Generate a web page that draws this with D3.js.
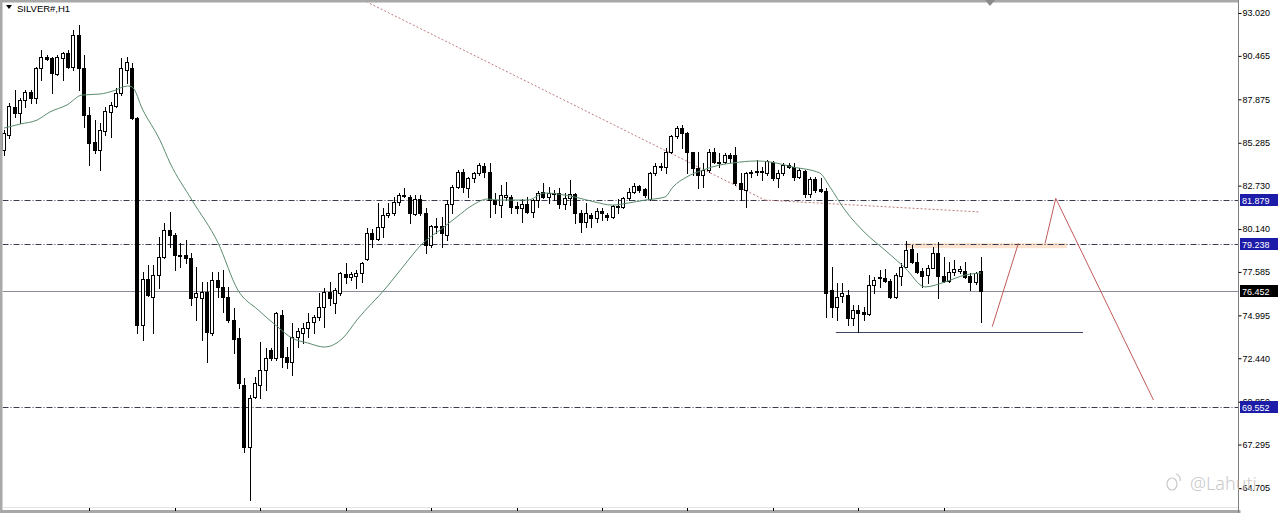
<!DOCTYPE html>
<html><head><meta charset="utf-8">
<script src="https://cdn.jsdelivr.net/npm/d3@7"></script>
<style>html,body{margin:0;padding:0;background:#fff;}svg{display:block;}</style>
</head><body>
<svg id="chart" width="1280" height="513"></svg>
<script>
const title = "SILVER#,H1";
const opens = [84.85,85.75,87.42,87.06,87.83,88.31,87.95,89.74,90.40,90.34,89.38,90.34,90.64,89.80,91.71,89.74,86.94,85.33,84.85,85.99,87.12,87.48,88.25,89.62,89.74,86.76,74.42,77.16,76.09,77.40,78.47,80.09,79.79,78.59,78.59,78.41,76.09,76.03,76.39,73.94,77.10,76.69,76.09,74.72,73.65,70.84,67.15,70.13,70.84,71.74,72.93,72.46,75.02,72.51,72.22,73.71,73.94,74.24,74.60,74.90,75.50,76.39,75.73,76.33,77.46,77.28,77.34,77.52,78.36,79.91,79.55,80.26,80.98,81.10,81.75,82.17,82.05,81.04,81.93,81.10,79.19,80.26,80.32,79.79,81.63,82.65,83.54,82.59,83.19,83.48,83.90,83.54,81.87,81.57,82.05,82.05,81.52,81.40,81.63,81.16,81.87,82.35,82.05,82.29,82.29,81.63,81.99,82.23,81.10,80.56,80.98,80.80,81.22,80.98,80.86,81.46,81.46,81.99,82.35,82.71,82.53,81.93,83.48,83.84,83.84,84.73,85.69,86.16,85.87,84.73,83.78,83.36,83.66,84.73,84.14,84.14,84.56,84.56,82.89,82.47,83.48,83.54,83.54,83.48,84.14,83.19,83.48,83.96,83.84,83.25,83.60,82.23,83.13,82.53,82.41,76.51,75.50,76.16,76.21,74.84,75.32,75.20,75.08,76.80,77.22,77.22,77.04,76.09,77.34,77.88,78.95,78.18,77.64,77.40,77.82,78.71,77.34,77.04,77.58,77.64,77.64,77.34,76.98,77.64];
const highs = [86.05,87.65,88.43,87.95,88.43,88.43,89.80,90.81,90.52,90.40,90.52,90.69,90.81,92.01,92.30,90.52,87.42,86.64,86.46,87.42,87.71,88.55,90.34,90.40,90.04,86.82,77.58,78.00,78.00,79.67,80.50,81.16,79.91,79.31,79.49,78.71,77.88,76.98,76.98,77.58,77.58,77.70,76.69,75.44,74.24,71.26,70.25,71.32,73.41,73.05,73.05,75.20,75.32,73.11,74.54,74.24,74.54,75.14,75.02,76.33,76.63,76.98,76.63,77.58,78.12,77.58,77.70,78.18,80.20,80.14,81.69,81.40,81.69,82.05,82.29,82.59,82.17,82.17,82.17,81.40,80.38,80.80,80.86,81.87,82.77,83.66,83.72,83.25,83.54,84.08,84.08,84.08,82.29,82.77,82.95,82.17,81.75,81.93,82.05,81.93,82.41,82.89,82.65,82.47,82.59,82.29,83.07,82.29,81.28,81.69,81.10,81.40,81.40,81.10,81.57,81.93,82.05,82.59,82.89,82.77,82.59,83.54,84.08,84.08,84.97,85.75,86.28,86.34,85.90,84.76,84.73,84.08,84.91,84.97,84.67,84.67,84.67,85.03,83.48,83.54,83.66,84.26,83.84,84.26,84.17,83.66,84.08,84.08,84.08,83.78,83.66,83.25,83.25,83.19,82.59,77.88,76.92,76.92,76.51,75.62,75.62,75.50,77.40,77.28,77.70,77.76,77.16,77.52,78.12,79.43,79.19,78.71,77.82,78.00,79.07,79.37,78.47,78.18,78.30,77.94,78.18,77.52,77.58,78.47];
const lows = [84.56,85.57,86.82,86.46,87.42,87.65,87.65,89.03,90.22,88.25,89.32,89.03,89.74,89.62,88.43,86.22,83.96,84.67,83.66,85.75,85.63,87.42,88.13,88.85,86.70,73.94,73.53,76.15,73.94,76.63,78.41,79.07,77.70,77.88,78.12,75.62,74.72,73.53,72.22,73.82,76.09,75.20,74.60,72.75,70.66,66.85,63.99,70.07,70.07,70.55,72.34,72.34,71.92,71.86,71.44,73.11,73.35,73.71,73.94,74.72,74.30,75.62,75.14,76.21,76.92,77.10,76.63,76.98,78.30,79.07,79.49,79.67,80.86,80.98,81.57,82.05,80.50,80.98,80.98,78.71,79.07,79.91,79.07,79.49,81.10,82.59,82.35,82.05,82.95,83.36,83.25,80.86,81.10,80.86,81.87,81.10,81.10,80.56,81.10,80.86,81.46,81.99,81.69,81.87,81.40,81.34,81.57,80.50,79.97,80.26,80.26,80.56,80.68,80.68,80.80,81.10,81.40,81.87,82.29,82.35,82.05,81.87,83.36,83.66,83.48,84.67,85.57,84.97,83.48,83.36,82.59,82.65,83.54,84.08,83.84,84.08,84.14,82.77,81.87,81.46,83.25,83.36,83.07,83.36,83.07,82.65,83.36,83.78,83.07,83.19,82.05,82.05,82.35,82.35,74.90,74.90,74.72,75.79,74.42,74.42,74.00,74.72,75.02,76.33,76.69,76.98,76.03,76.03,76.80,77.85,78.12,77.52,76.69,76.92,77.79,76.03,76.98,76.98,77.40,77.52,77.22,76.51,76.86,74.60];
const closes = [85.87,87.48,87.06,87.83,88.31,87.95,89.74,90.40,90.28,89.44,90.40,90.64,89.80,91.71,89.74,86.94,85.27,84.85,86.05,87.18,87.54,88.25,89.74,90.10,86.76,74.42,77.16,76.21,77.40,78.47,80.09,79.79,78.59,78.53,78.41,76.03,76.33,76.39,74.00,77.10,76.69,76.09,74.72,73.59,70.96,67.15,70.07,70.96,71.74,72.46,72.46,75.14,72.51,72.22,73.71,74.06,74.24,74.60,74.90,75.50,76.39,76.03,76.51,77.52,77.28,77.46,77.52,78.12,79.91,79.55,80.26,80.98,81.10,81.75,82.17,82.11,81.10,81.93,81.10,79.19,80.32,80.32,79.91,81.63,82.65,83.54,82.65,83.19,83.48,83.96,83.54,81.87,81.63,82.17,82.17,81.46,81.40,81.63,81.16,81.87,82.29,82.05,82.29,82.23,81.63,81.99,82.23,81.10,80.56,81.10,80.80,81.22,81.10,80.86,81.52,81.52,81.99,82.35,82.71,82.47,82.17,83.48,83.90,83.90,84.73,85.69,86.16,85.87,84.73,83.78,83.36,83.66,84.73,84.14,84.08,84.56,84.38,82.89,82.53,83.48,83.54,83.60,83.60,84.20,83.19,83.48,83.96,83.84,83.25,83.66,82.23,83.13,82.47,82.41,76.33,75.50,76.09,76.33,74.84,75.32,75.14,75.08,76.80,77.10,77.28,77.04,76.09,77.40,77.88,78.89,78.18,77.58,77.34,77.82,78.71,77.34,77.04,77.58,77.76,77.76,77.28,76.98,77.52,76.452];
// moving average line, read at sampled bars
const maIdx = [0,3,6.2,8.6,11.8,14.6,18,20.4,23.2,24,26,29.2,31.1,35.2,40.1,43.8,47.6,51.3,53.9,56.9,60,63.5,66.1,71.7,74.7,78.5,81.7,84.8,87.8,90.5,92.9,98.1,101.3,106.9,110.7,113.9,116.9,120.1,123.8,125.3,127.9,130.9,134.1,136.5,141,143.5,147.8,152.8,154.7,157.5,161.3,165,168.8,172.5,176.3,180,183];
const maVal = [86.16,86.40,86.64,87.12,87.54,88.13,88.19,88.37,88.67,88.61,87.24,85.45,84.08,81.87,79.31,76.51,75.32,74.30,73.65,73.35,73.11,73.65,74.72,76.69,77.88,79.31,80.09,80.86,81.57,81.93,81.87,81.87,82.29,82.05,81.75,81.57,81.69,81.87,82.05,82.65,83.25,83.66,83.96,84.08,84.20,84.14,83.84,83.48,82.65,81.28,79.91,78.89,77.82,76.69,76.99,77.40,77.52];
const priceTicks = [93.020,90.465,87.875,85.285,82.730,80.140,77.585,74.995,72.440,69.850,67.295,64.705];
const levelLines = [81.879,79.238,69.552];
const lastPrice = 76.452;
const supportLine = {price:74.03, from:155.8, to:202.1};
const zoneBox = {from:168.8, to:199.1, top:79.30, bottom:79.00};
const trendA = [[67.2,93.80],[142.5,81.87]];
const trendB = [[142.5,81.87],[182.8,81.16]];
const projLeg1 = [[185.1,74.32],[190.0,79.29]];
const projLeg2 = [[195.0,79.29],[197.0,81.97],[215.3,69.95]];
const timeTicks = [16,32,48,64,80,96,112,128,144,160,176];

const W=1280,H=513, axisX=1238.5;
const svg=d3.select("#chart");
svg.append("rect").attr("width",W).attr("height",H).attr("fill","#fff");
const x=d3.scaleLinear().domain([0,183]).range([4,981]);
const y=d3.scaleLinear().domain([64.705,93.020]).range([488,13]);
svg.append("defs").append("clipPath").attr("id","pc").append("rect").attr("x",2.5).attr("y",2.5).attr("width",axisX-2.5).attr("height",507.5);
const g=svg.append("g").attr("clip-path","url(#pc)");
const line=d3.line().x(d=>x(d[0])).y(d=>y(d[1]));
const cy=v=>Math.round(y(v))+0.5;

// zone rectangle
g.append("rect").attr("x",x(zoneBox.from)).attr("width",x(zoneBox.to)-x(zoneBox.from))
 .attr("y",y(zoneBox.top)).attr("height",y(zoneBox.bottom)-y(zoneBox.top)).attr("fill","#fbdcc4").attr("opacity",0.8);
// level lines
g.selectAll(".lvl").data(levelLines).join("line").attr("x1",2.5).attr("x2",axisX)
 .attr("y1",d=>cy(d)).attr("y2",d=>cy(d)).attr("stroke","#3c3c50").attr("stroke-width",1).attr("stroke-dasharray","6,2,1,2");
// bid line
g.append("line").attr("x1",2.5).attr("x2",axisX).attr("y1",cy(lastPrice)).attr("y2",cy(lastPrice)).attr("stroke","#8c8c98").attr("stroke-width",1);
// support
g.append("line").attr("x1",x(supportLine.from)).attr("x2",x(supportLine.to)).attr("y1",cy(supportLine.price)).attr("y2",cy(supportLine.price)).attr("stroke","#3c4664").attr("stroke-width",1);
// dotted trend lines
[trendA,trendB].forEach(t=>g.append("path").attr("d",line(t)).attr("fill","none").attr("stroke","#c07a7a").attr("stroke-width",1).attr("stroke-dasharray","2,2"));

// candles
const bars=d3.range(opens.length).map(i=>({i,o:opens[i],h:highs[i],l:lows[i],c:closes[i]}));
const cg=g.append("g");
cg.selectAll(".wick").data(bars).join("line")
 .attr("x1",d=>Math.round(x(d.i))+0.5).attr("x2",d=>Math.round(x(d.i))+0.5)
 .attr("y1",d=>Math.round(y(d.h))).attr("y2",d=>Math.round(y(d.l))+1).attr("stroke","#000").attr("stroke-width",1);
cg.selectAll(".body").data(bars).join("rect")
 .attr("x",d=>Math.round(x(d.i))-1.5).attr("width",3)
 .attr("y",d=>Math.round(y(Math.max(d.o,d.c)))+0.5)
 .attr("height",d=>Math.max(0.01,Math.round(y(Math.min(d.o,d.c)))-Math.round(y(Math.max(d.o,d.c)))))
 .attr("fill",d=>d.c>d.o?"#fff":"#000").attr("stroke","#000").attr("stroke-width",1);

// MA
g.append("path").attr("d",d3.line().x(d=>x(d[0])).y(d=>y(d[1])).curve(d3.curveMonotoneX)(maIdx.map((v,k)=>[v,maVal[k]])))
 .attr("fill","none").attr("stroke","#5b8c6e").attr("stroke-width",1);

// projection
[projLeg1,projLeg2].forEach(t=>g.append("path").attr("d",line(t)).attr("fill","none").attr("stroke","#c25a5a").attr("stroke-width",1));

// frame
svg.append("rect").attr("x",0).attr("y",0).attr("width",axisX).attr("height",2.5).attr("fill","#a8a8a8");
svg.append("rect").attr("x",0).attr("y",0).attr("width",2.5).attr("height",H).attr("fill","#a8a8a8");
svg.append("rect").attr("x",0).attr("y",510).attr("width",axisX+2).attr("height",3).attr("fill","#a8a8a8");
svg.append("line").attr("x1",2.5).attr("x2",axisX).attr("y1",507.5).attr("y2",507.5).attr("stroke","#e4e4e4");
svg.selectAll(".tt").data(timeTicks).join("line").attr("x1",d=>Math.round(x(d))+0.5).attr("x2",d=>Math.round(x(d))+0.5)
 .attr("y1",508).attr("y2",511).attr("stroke","#000");
svg.append("path").attr("d","M985,0 L995,0 L990,6 Z").attr("fill","#8a8a8a");

// price axis
svg.append("line").attr("x1",axisX).attr("x2",axisX).attr("y1",0).attr("y2",H).attr("stroke","#808080");
const ax=svg.append("g").attr("transform",`translate(${axisX},0)`)
 .call(d3.axisRight(y).tickValues(priceTicks).tickFormat(d3.format(".3f")).tickSize(3).tickPadding(1));
ax.select(".domain").remove();
ax.selectAll("text").attr("font-family","Liberation Sans, Arial, sans-serif").attr("font-size",9).attr("fill","#000");
ax.selectAll("line").attr("stroke","#000");
const tags=[{v:81.879,bg:"#1c1ca8"},{v:79.238,bg:"#1c1ca8"},{v:lastPrice,bg:"#000"},{v:69.552,bg:"#1c1ca8"}];
tags.forEach(t=>{
  const yy=Math.round(y(t.v));
  svg.append("rect").attr("x",axisX+1.5).attr("y",yy-6).attr("width",38).attr("height",12).attr("fill",t.bg);
  svg.append("text").attr("x",axisX+3.5).attr("y",yy+3.5).attr("font-family","Liberation Sans, Arial, sans-serif").attr("font-size",9).attr("fill","#fff").text(t.v.toFixed(3));
});

// title
svg.append("path").attr("d","M6,5 L12,5 L9,9 Z").attr("fill","#000");
svg.append("text").attr("x",17).attr("y",12).attr("font-family","Liberation Sans, Arial, sans-serif").attr("font-size",9.5).attr("fill","#000").text(title);

// watermark
const wm=svg.append("g").attr("opacity",0.9);
wm.append("ellipse").attr("cx",1172).attr("cy",484).attr("rx",5).attr("ry",6).attr("fill","none").attr("stroke","#c4c4c4").attr("stroke-width",1.2);
wm.append("path").attr("d","M1176,474 Q1181,476 1180,481").attr("fill","none").attr("stroke","#c4c4c4").attr("stroke-width",1.2);
wm.append("text").attr("x",1190).attr("y",490).attr("font-family","Noto Sans, sans-serif").attr("font-weight",300).attr("font-size",18).attr("fill","#c4c4c4").text("@Lahuti");
</script>
</body></html>
